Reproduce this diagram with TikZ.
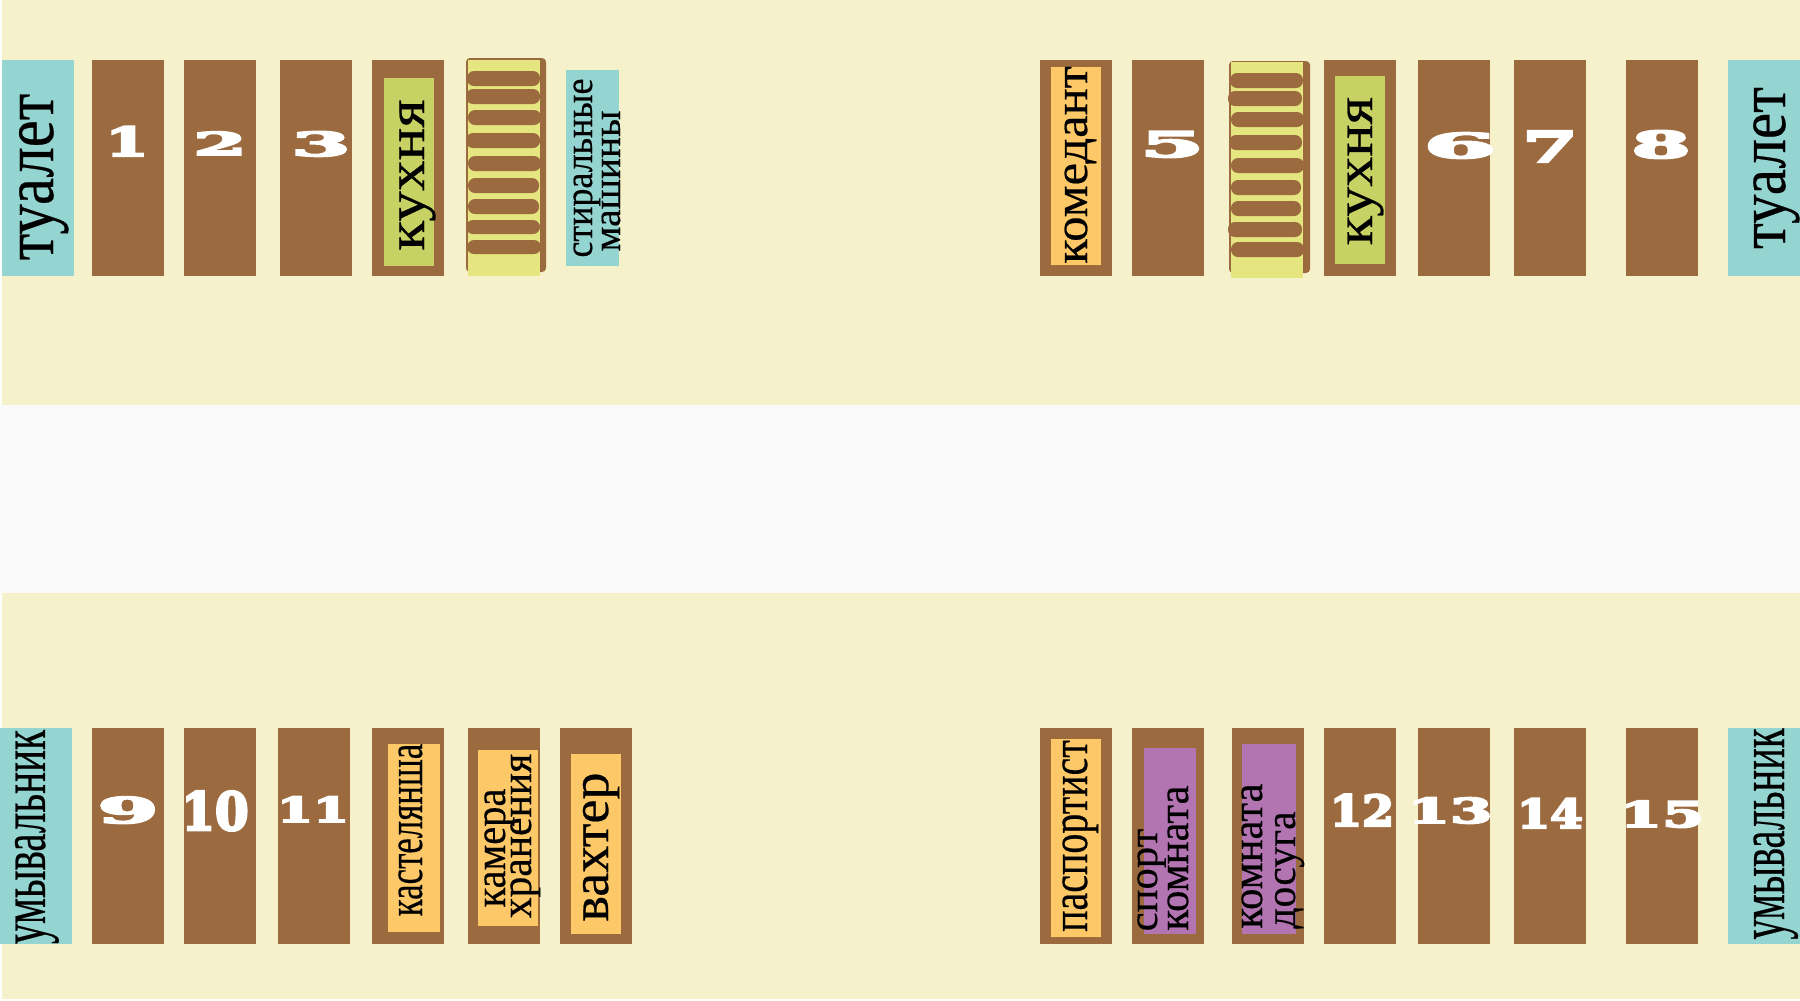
\documentclass[tikz,border=0pt]{standalone}
\usepackage{fontspec}
\setmainfont[FakeBold=0.4]{Liberation Serif}
\newfontfamily\numfont[BoldFeatures={FakeBold=5}]{DejaVu Serif}
\definecolor{creambg}{HTML}{F5F1CA}
\definecolor{hallbg}{HTML}{FAFAFA}
\definecolor{roombrown}{HTML}{9B6A3E}
\definecolor{bathteal}{HTML}{94D4D1}
\definecolor{kitchgreen}{HTML}{C8D264}
\definecolor{officeorange}{HTML}{FDC868}
\definecolor{leisurepurple}{HTML}{B374B2}
\definecolor{stairyellow}{HTML}{E6E680}
\tikzset{
  room/.style={fill=roombrown},
  bath/.style={fill=bathteal},
  kitch/.style={fill=kitchgreen},
  office/.style={fill=officeorange},
  leisure/.style={fill=leisurepurple},
  stair/.style={fill=stairyellow},
  rung/.style={fill=roombrown, rounded corners=0.7mm},
  % rotated text: length stretch, thickness stretch
  lbl/.style 2 args={font=\fontsize{16pt}{16pt}\selectfont, anchor=base, inner sep=0pt, rotate=90, xscale=#1, yscale=#2},
  numlbl/.style 2 args={font=\fontsize{16pt}{16pt}\numfont\bfseries, text=white, anchor=base, inner sep=0pt, xscale=#1, yscale=#2}
}
\begin{document}
\begin{tikzpicture}[x=0.1mm, y=-0.1mm]
  \useasboundingbox (0,0) rectangle (1800,1000);

  % Floor
  \fill[creambg] (2,0) rectangle (1800,999);
  \fill[hallbg] (0,405) rectangle (1800,593);

  % Top row, left wing
  \fill[bath] (2,60) rectangle (74,276);
  \fill[room] (92,60) rectangle (164,276);
  \fill[room] (184,60) rectangle (256,276);
  \fill[room] (280,60) rectangle (352,276);
  \fill[room] (372,60) rectangle (444,276);
  \fill[kitch] (384,78) rectangle (434,266);
  \fill[room, rounded corners=0.4mm] (466,58) rectangle (546,272);
  \fill[stair] (468,60) rectangle (540,276);
  \fill[rung] (467,71) rectangle (540,86);
  \fill[rung] (466,89) rectangle (540,104);
  \fill[rung] (468,110) rectangle (541,125);
  \fill[rung] (466,133) rectangle (540,148);
  \fill[rung] (468,156) rectangle (541,171);
  \fill[rung] (468,178) rectangle (539,193);
  \fill[rung] (468,199) rectangle (539,214);
  \fill[rung] (466,220) rectangle (540,234);
  \fill[rung] (467,240) rectangle (541,254);
  \fill[bath] (566,70) rectangle (619,266);

  % Top row, right wing
  \fill[room] (1040,60) rectangle (1112,276);
  \fill[office] (1051,67) rectangle (1101,265);
  \fill[room] (1132,60) rectangle (1204,276);
  \fill[room, rounded corners=0.4mm] (1229,61) rectangle (1310,273);
  \fill[stair] (1231,62) rectangle (1303,278);
  \fill[rung] (1230,73) rectangle (1303,88);
  \fill[rung] (1228,91) rectangle (1302,106);
  \fill[rung] (1231,112) rectangle (1304,127);
  \fill[rung] (1229,135) rectangle (1302,150);
  \fill[rung] (1231,158) rectangle (1304,173);
  \fill[rung] (1231,180) rectangle (1301,195);
  \fill[rung] (1231,201) rectangle (1301,216);
  \fill[rung] (1228,222) rectangle (1302,237);
  \fill[rung] (1231,242) rectangle (1304,257);
  \fill[room] (1324,60) rectangle (1396,276);
  \fill[kitch] (1335,76) rectangle (1385,264);
  \fill[room] (1418,60) rectangle (1490,276);
  \fill[room] (1514,60) rectangle (1586,276);
  \fill[room] (1626,60) rectangle (1698,276);
  \fill[bath] (1728,60) rectangle (1800,276);

  % Bottom row, left wing
  \fill[bath] (0,728) rectangle (72,944);
  \fill[room] (92,728) rectangle (164,944);
  \fill[room] (184,728) rectangle (256,944);
  \fill[room] (278,728) rectangle (350,944);
  \fill[room] (372,728) rectangle (444,944);
  \fill[office] (388,744) rectangle (440,932);
  \fill[room] (468,728) rectangle (540,944);
  \fill[office] (478,750) rectangle (538,926);
  \fill[room] (560,728) rectangle (632,944);
  \fill[office] (571,754) rectangle (621,934);

  % Bottom row, right wing
  \fill[room] (1040,728) rectangle (1112,944);
  \fill[office] (1051,739) rectangle (1101,937);
  \fill[room] (1132,728) rectangle (1204,944);
  \fill[leisure] (1144,748) rectangle (1196,934);
  \fill[room] (1232,728) rectangle (1304,944);
  \fill[leisure] (1242,744) rectangle (1296,934);
  \fill[room] (1324,728) rectangle (1396,944);
  \fill[room] (1418,728) rectangle (1490,944);
  \fill[room] (1514,728) rectangle (1586,944);
  \fill[room] (1626,728) rectangle (1698,944);
  \fill[bath] (1728,728) rectangle (1800,944);

  % Room numbers
  \node[numlbl={1.10}{0.71}] (num1) at (127,156) {1};
  \node[numlbl={1.36}{0.56}] (num2) at (220,155) {2};
  \node[numlbl={1.50}{0.59}] (num3) at (321,156) {3};
  \node[numlbl={1.62}{0.63}] (num5) at (1172,157) {5};
  \node[numlbl={1.85}{0.61}] (num6) at (1460,158) {6};
  \node[numlbl={1.40}{0.76}] (num7) at (1550,162) {7};
  \node[numlbl={1.50}{0.66}] (num8) at (1661,158) {8};
  \node[numlbl={1.55}{0.63}] (num9) at (128,823) {9};
  \node[numlbl={0.86}{0.93}] (num10) at (215,830) {10};
  \node[numlbl={0.92}{0.61}] (num11) at (313,822) {11};
  \node[numlbl={0.82}{0.76}] (num12) at (1362,826) {12};
  \node[numlbl={1.08}{0.61}] (num13) at (1450,823) {13};
  \node[numlbl={0.84}{0.71}] (num14) at (1550,828) {14};
  \node[numlbl={1.08}{0.63}] (num15) at (1662,827) {15};

  % Room names
  \node[lbl={1.08}{1.28}] (toiletL) at (53,177) {туалет};
  \node[lbl={1.09}{0.95}] (kitchL) at (424,175) {кухня};
  \node[lbl={0.64}{0.70}] (washA) at (592,168) {стиральные};
  \node[lbl={0.70}{0.70}] (washB) at (620,181) {машины};
  \node[lbl={0.90}{0.85}] (commandant) at (1087,165) {комедант};
  \node[lbl={1.07}{0.95}] (kitchR) at (1372,171) {кухня};
  \node[lbl={1.05}{1.20}] (toiletR) at (1785,168) {туалет};
  \node[lbl={0.73}{1.14}] (sinkL) at (45,837) {умывальник};
  \node[lbl={0.62}{0.89}] (linen) at (422,830) {кастелянша};
  \node[lbl={0.72}{0.78}] (storeA) at (505,848) {камера};
  \node[lbl={0.74}{0.78}] (storeB) at (531,836) {хранения};
  \node[lbl={0.96}{0.95}] (guard) at (608,847) {вахтер};
  \node[lbl={0.71}{0.93}] (passport) at (1087,836) {паспортист};
  \node[lbl={0.76}{0.74}] (sportA) at (1157,880) {спорт};
  \node[lbl={0.76}{0.78}] (sportB) at (1188,858) {комната};
  \node[lbl={0.76}{0.78}] (leisureA) at (1262,856) {комната};
  \node[lbl={0.74}{0.76}] (leisureB) at (1295,870) {досуга};
  \node[lbl={0.72}{1.16}] (sinkR) at (1784,834) {умывальник};
\end{tikzpicture}
\end{document}
